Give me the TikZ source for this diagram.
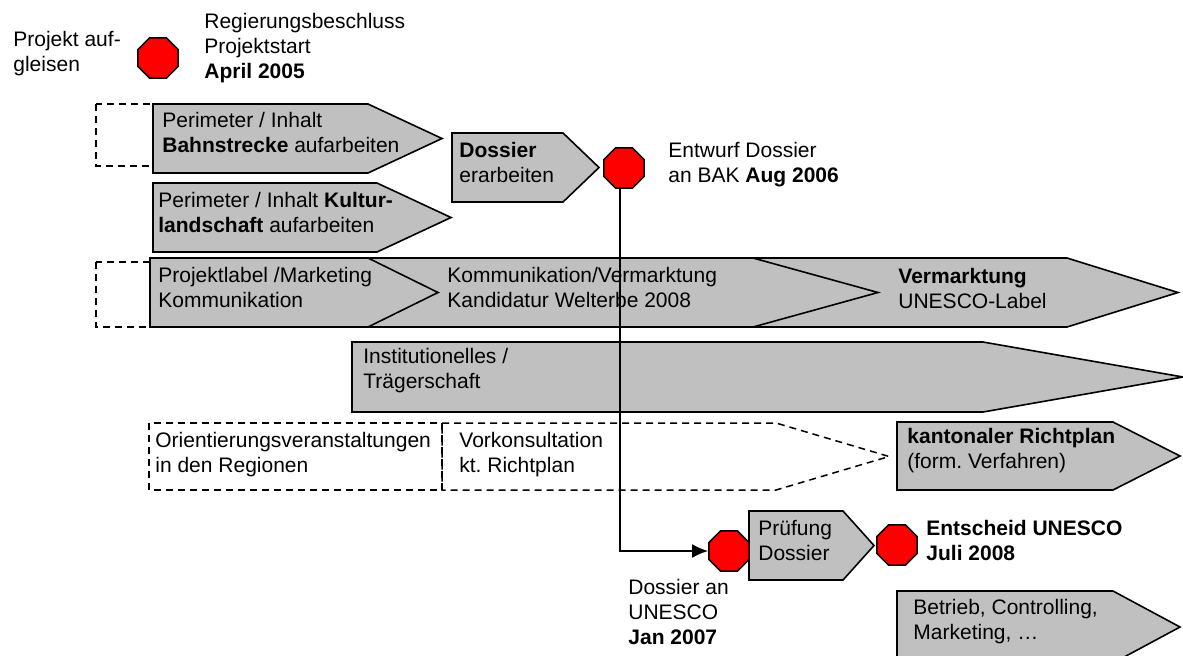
\documentclass[tikz,border=0pt]{standalone}
\usepackage{fontspec}
\setmainfont{Liberation Sans}
\usetikzlibrary{shapes.geometric,arrows.meta}
\definecolor{phasegray}{HTML}{C0C0C0}
\tikzset{
  phase/.style={draw=black,fill=phasegray,line width=0.8pt,line join=miter},
  plan/.style={draw=black,dash pattern=on 3.5pt off 2.5pt,line width=0.75pt},
  stopp/.style={regular polygon,regular polygon sides=8,minimum size=21.8pt,
    inner sep=0pt,draw=black,fill=red,line width=0.8pt},
  txt/.style={anchor=west,align=left,inner sep=0pt,
    font=\fontsize{10.5}{12.5}\selectfont}
}
% #2 left, #3 base, #4 tip, #5 top, #6 bottom
\newcommand\Pfeil[6][phase]{
\path[#1]
  (#2,#5) -- (#3,#5) -- (#4,{(#5+#6)/2}) -- (#3,#6) -- (#2,#6) -- cycle;
}
\frenchspacing

\begin{document}
\begin{tikzpicture}[x=0.5pt,y=-0.5pt]
\useasboundingbox (0,0) rectangle (1183,655);
\clip (0,0) rectangle (1183,655);

\draw[plan] (96,104) rectangle (331,166);
\Pfeil{153}{368}{442}{104}{173}
\Pfeil{153}{377}{451}{183}{252}
\Pfeil{452}{563}{599}{133}{202}

\draw[plan] (96,262) rectangle (160,327);
\Pfeil{745}{1067}{1178}{258}{327}
\Pfeil{360}{753}{878}{258}{327}
\Pfeil{150}{368}{438}{258}{327}

\Pfeil{352}{983}{1183}{342}{412}

\draw[plan] (149,423) rectangle (442,490);
\Pfeil[plan]{442}{776}{889}{423}{490}
\Pfeil{897}{1113}{1180}{422}{490}

\Pfeil{749}{843}{874}{511}{580}
\Pfeil{897}{1113}{1180}{591}{663}

\node[stopp] (start) at (158,58) {};
\node[stopp] (bak) at (624,168) {};
\node[stopp] (abgabe) at (729,551) {};
\node[stopp] (entscheid) at (897,545) {};

\draw[-{Latex[length=8pt,width=7pt]},line width=0.8pt]
  ([xshift=-2pt]bak.south) |- (abgabe.west);

\node[txt] (aufgleisen) at (13,54) {Projekt auf-\\gleisen};
\node[txt] (beschluss) at (204,48) {Regierungsbeschluss\\Projektstart\\\textbf{April 2005}};
\node[txt] (bahn) at (162,132) {Perimeter / Inhalt\\\textbf{Bahnstrecke} aufarbeiten};
\node[txt] (kultur) at (158,212) {Perimeter / Inhalt \textbf{Kultur-}\\\textbf{landschaft} aufarbeiten};
\node[txt] (dossier) at (459,162) {\textbf{Dossier}\\erarbeiten};
\node[txt] (entwurf) at (668,165) {Entwurf Dossier\\an BAK \textbf{Aug 2006}};
\node[txt] (label) at (158,287) {Projektlabel /Marketing\\Kommunikation};
\node[txt] (kandidatur) at (447,287) {Kommunikation/Vermarktung\\Kandidatur Welterbe 2008};
\node[txt] (vermarktung) at (898,288) {\textbf{Vermarktung}\\UNESCO-Label};
\node[txt] (traeger) at (363,371) {Institutionelles /\\Trägerschaft};
\node[txt] (orient) at (155,455) {Orientierungsveranstaltungen\\in den Regionen};
\node[txt] (vorkons) at (459,455) {Vorkonsultation\\kt. Richtplan};
\node[txt] (richtplan) at (907,451) {\textbf{kantonaler Richtplan}\\(form. Verfahren)};
\node[txt] (pruefung) at (758,540) {Prüfung\\Dossier};
\node[txt] (uentscheid) at (926,540) {\textbf{Entscheid UNESCO}\\\textbf{Juli 2008}};
\node[txt] (uabgabe) at (628,612) {Dossier an\\UNESCO\\\textbf{Jan 2007}};
\node[txt] (betrieb) at (913,622) {Betrieb, Controlling,\\Marketing, …};
\end{tikzpicture}
\end{document}
